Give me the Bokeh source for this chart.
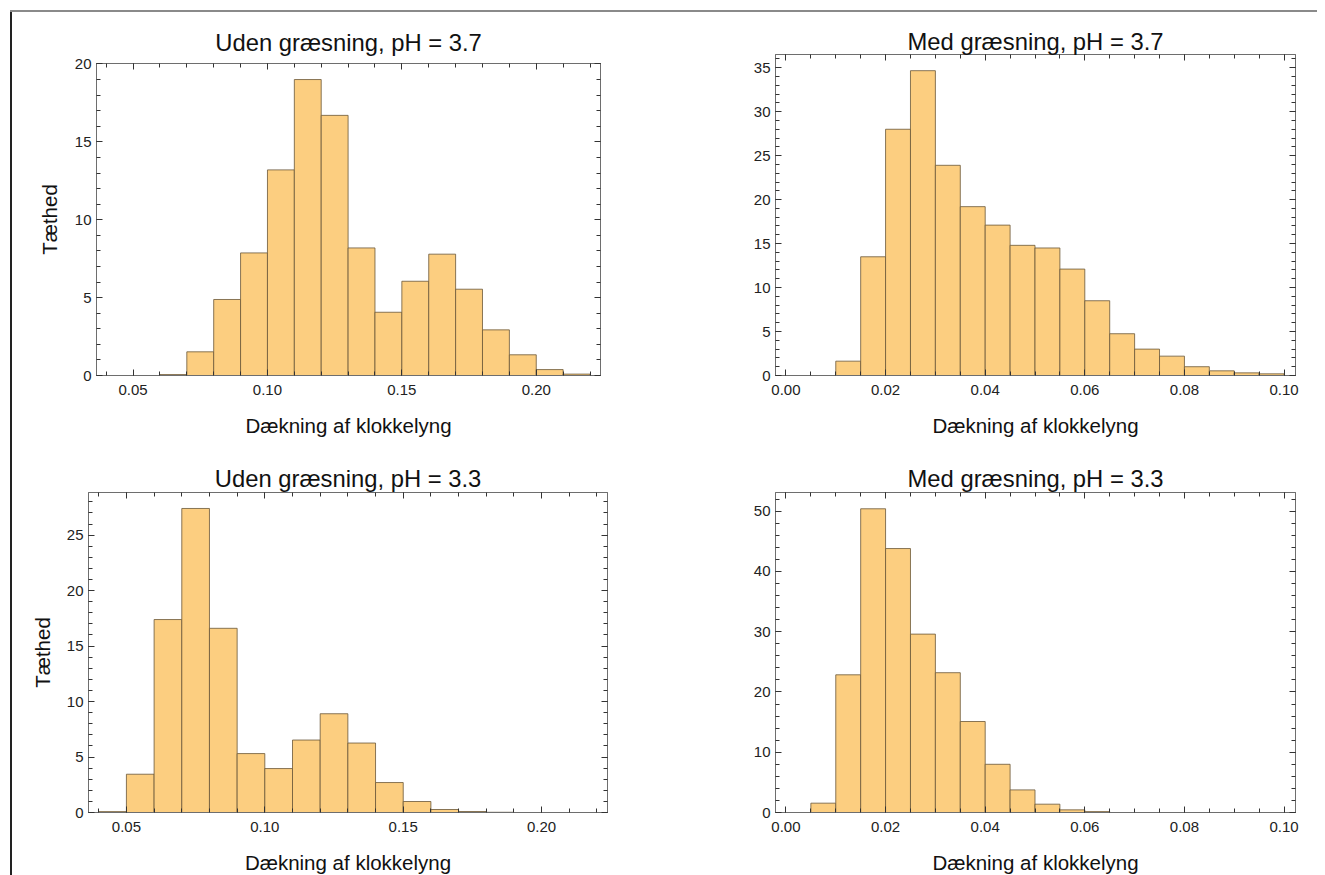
from bokeh.plotting import figure
from bokeh.models import Range1d, LinearAxis, SingleIntervalTicker, ColumnDataSource, PrintfTickFormatter
from bokeh.layouts import column, row
from bokeh.embed import file_html
from bokeh.resources import INLINE

# ---------------- data ----------------
titles = ["Uden græsning, pH = 3.7", "Med græsning, pH = 3.7",
          "Uden græsning, pH = 3.3", "Med græsning, pH = 3.3"]
x_label = "Dækning af klokkelyng"
y_label = "Tæthed"

# Uden græsning, pH = 3.7 (bin width 0.01)
u37_left = [0.06, 0.07, 0.08, 0.09, 0.10, 0.11, 0.12, 0.13, 0.14, 0.15, 0.16, 0.17, 0.18, 0.19, 0.20, 0.21]
u37_dens = [0.06, 1.52, 4.88, 7.87, 13.2, 19.0, 16.7, 8.19, 4.06, 6.05, 7.79, 5.54, 2.93, 1.33, 0.38, 0.09]

# Med græsning, pH = 3.7 (bin width 0.005)
m37_left = [0.010, 0.015, 0.020, 0.025, 0.030, 0.035, 0.040, 0.045, 0.050, 0.055,
            0.060, 0.065, 0.070, 0.075, 0.080, 0.085, 0.090, 0.095]
m37_dens = [1.63, 13.5, 28.0, 34.66, 23.9, 19.2, 17.1, 14.8, 14.5, 12.1,
            8.5, 4.75, 3.0, 2.2, 1.0, 0.53, 0.3, 0.19]

# Uden græsning, pH = 3.3 (bin width 0.01)
u33_left = [0.04, 0.05, 0.06, 0.07, 0.08, 0.09, 0.10, 0.11, 0.12, 0.13, 0.14, 0.15, 0.16, 0.17, 0.18]
u33_dens = [0.08, 3.45, 17.39, 27.4, 16.6, 5.31, 3.96, 6.53, 8.9, 6.26, 2.7, 0.99, 0.27, 0.09, 0.02]

# Med græsning, pH = 3.3 (bin width 0.005)
m33_left = [0.005, 0.010, 0.015, 0.020, 0.025, 0.030, 0.035, 0.040, 0.045, 0.050, 0.055, 0.060]
m33_dens = [1.55, 22.85, 50.4, 43.8, 29.6, 23.2, 15.1, 8.0, 3.75, 1.38, 0.44, 0.15]

bin_widths = [0.01, 0.005, 0.01, 0.005]
x_ranges = [(0.0364, 0.2239), (-0.0021, 0.1023), (0.0363, 0.2238), (-0.0021, 0.1023)]
y_ranges = [(0, 20.03), (0, 36.5), (0, 28.84), (0, 53.1)]
x_major = [0.05, 0.02, 0.05, 0.02]
x_minor = [5, 4, 5, 4]
y_major = [5, 5, 5, 10]
y_minor = [5, 5, 5, 5]

FONT = "Liberation Sans"
FILL = "#FCCE80"
EDGE = "#6a5838"
FRAME = "#6e6e6e"


def make_panel(i, lefts, dens, geom, show_ylabel, title_standoff, ylab_standoff):
    fw, fh, bl, br, bt, bb = geom
    p = figure(frame_width=fw, frame_height=fh,
               min_border_left=bl, min_border_right=br,
               min_border_top=bt, min_border_bottom=bb,
               x_range=Range1d(*x_ranges[i]), y_range=Range1d(*y_ranges[i]),
               output_backend="svg", toolbar_location=None,
               x_axis_location=None, y_axis_location=None)
    p.background_fill_color = "white"
    p.border_fill_alpha = 0
    p.outline_line_color = FRAME
    p.outline_line_width = 1
    p.grid.visible = False

    w = bin_widths[i]
    src = ColumnDataSource(dict(left=lefts, right=[l + w for l in lefts],
                                top=dens, bottom=[0] * len(dens)))
    p.quad(left="left", right="right", top="top", bottom="bottom", source=src,
           fill_color=FILL, line_color=EDGE, line_alpha=0.8, line_width=1)

    xt = SingleIntervalTicker(interval=x_major[i], num_minor_ticks=x_minor[i])
    yt = SingleIntervalTicker(interval=y_major[i], num_minor_ticks=y_minor[i])

    for loc in ["below", "above"]:
        p.add_layout(LinearAxis(ticker=xt), loc)
    for loc in ["left", "right"]:
        p.add_layout(LinearAxis(ticker=yt), loc)

    for ax in p.axis:
        ax.axis_line_color = FRAME
        ax.major_tick_line_color = "#333333"
        ax.minor_tick_line_color = "#333333"
        ax.major_tick_in = 6
        ax.major_tick_out = 0
        ax.minor_tick_in = 4
        ax.minor_tick_out = 0
        ax.major_label_text_font = FONT
        ax.major_label_text_font_size = "15px"
        ax.major_label_text_color = "#222222"
        ax.axis_label_text_font = FONT
        ax.axis_label_text_font_style = "normal"
        ax.axis_label_text_font_size = "20.5px"
        ax.axis_label_text_color = "#111111"

    below = p.below[0]
    below.axis_label = x_label
    below.major_label_standoff = 9
    below.axis_label_standoff = 16
    below.formatter = PrintfTickFormatter(format="%.2f")

    left = p.left[0]
    left.major_label_standoff = 5
    left.axis_label_standoff = ylab_standoff
    if show_ylabel:
        left.axis_label = y_label

    for ax in (p.above[0], p.right[0]):
        ax.major_label_text_font_size = "0px"
        ax.major_label_standoff = 0
        ax.major_label_text_alpha = 0

    p.title.text = titles[i]
    p.title.align = "center"
    p.title.text_font = FONT
    p.title.text_font_style = "normal"
    p.title.text_font_size = "23.8px"
    p.title.text_color = "#111111"
    p.title.standoff = title_standoff
    return p


p1 = make_panel(0, u37_left, u37_dens, (504, 312, 96, 60, 63, 65), True, 16, 11)
p2 = make_panel(1, m37_left, m37_dens, (520, 321, 115, 22, 54, 65), False, 0, 13)
p3 = make_panel(2, u33_left, u33_dens, (519, 320, 88, 53, 52, 60), True, 2, 10)
p4 = make_panel(3, m33_left, m33_dens, (520, 320, 115, 22, 52, 60), False, 2, 13)

layout = column(row(column(p1), column(p2)), row(column(p3), column(p4)),
                styles={"background-color": "white",
                        "background-image": "linear-gradient(#8a8a8a, #8a8a8a), linear-gradient(#222222, #222222)",
                        "background-position": "10px 10px, 10px 10px",
                        "background-size": "100% 2px, 2px 100%",
                        "background-repeat": "no-repeat, no-repeat"})

with open("out.html", "w") as f:
    f.write(file_html(layout, INLINE))
